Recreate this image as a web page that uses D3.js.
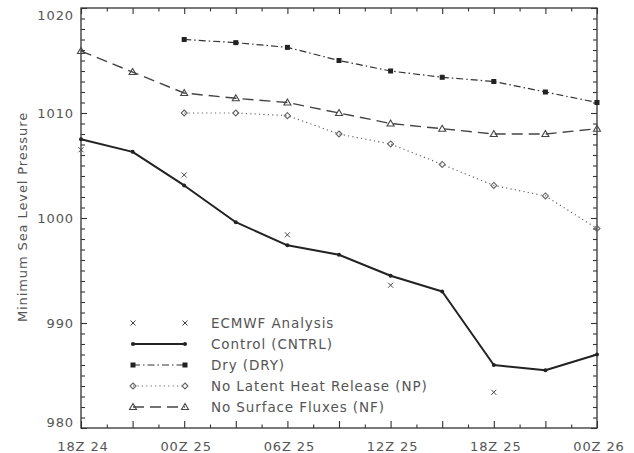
<!DOCTYPE html>
<html><head><meta charset="utf-8">
<script src="https://cdn.jsdelivr.net/npm/d3@7"></script>
<style>
body{margin:0;background:#fff;}
text{font-family:"DejaVu Sans",Verdana,sans-serif;fill:#555;}
</style></head>
<body><svg id="c" width="634" height="453"></svg>
<script>
const hoursAll = [0,3,6,9,12,15,18,21,24,27,30];
const hoursLate = [6,9,12,15,18,21,24,27,30];
const xTickHours = [0,6,12,18,24,30];
const xTickLabels = ["18Z 24","00Z 25","06Z 25","12Z 25","18Z 25","00Z 26"];
const yTickValues = [980,990,1000,1010,1020];
const ecmwfHours = [0,6,12,18,24];
const ecmwf = [1006.5,1004.1,998.4,993.6,983.4];
const control = [1007.5,1006.3,1003.1,999.6,997.4,996.5,994.5,993.0,986.0,985.5,987.0];
const dry = [1017.0,1016.7,1016.25,1015.0,1014.0,1013.4,1013.0,1012.0,1011.0];
const np = [1010.0,1010.0,1009.75,1008.0,1007.05,1005.1,1003.1,1002.1,999.0];
const nf = [1015.9,1013.9,1011.9,1011.4,1011.0,1010.0,1009.0,1008.5,1008.0,1008.0,1008.5];
const legendLabels = ["ECMWF Analysis","Control (CNTRL)","Dry (DRY)","No Latent Heat Release (NP)","No Surface Fluxes (NF)"];

const svg = d3.select("#c");
const L=81,R=597,T=8,B=428;
const x = d3.scaleLinear().domain([0,30]).range([L,R]);
const y = d3.scaleLinear().domain([980,1020]).range([B,T]);
const ink="#222";

// frame
svg.append("rect").attr("x",L).attr("y",T).attr("width",R-L).attr("height",B-T)
  .attr("fill","none").attr("stroke","#333").attr("stroke-width",1.3);

// axes (inward ticks)
const xMajor = d3.range(0,30.01,3), xMinor = d3.range(1.5,30,3);
const yMinor = d3.range(981,1020,1).filter(v=>v%10!==0);
function tickAxis(gen, pos, len, minorVals, majorVals, minorLen){
  const g = svg.append("g").attr("transform",pos);
  g.call(gen.tickValues(majorVals).tickSize(len).tickFormat(""));
  g.select(".domain").remove();
  g.selectAll("line").attr("stroke","#333").attr("stroke-width",1.1);
  const g2 = svg.append("g").attr("transform",pos);
  g2.call(gen.tickValues(minorVals).tickSize(minorLen).tickFormat(""));
  g2.select(".domain").remove();
  g2.selectAll("line").attr("stroke","#333").attr("stroke-width",1.1);
}
tickAxis(d3.axisTop(x),`translate(0,${B})`,7,xMinor,xMajor,3.5);
tickAxis(d3.axisBottom(x),`translate(0,${T})`,6,xMinor,xMajor,3.5);
tickAxis(d3.axisRight(y),`translate(${L},0)`,6,yMinor,yTickValues,4);
tickAxis(d3.axisLeft(y),`translate(${R},0)`,6,yMinor,yTickValues,4);

// tick labels
const lblStyle = s=>s.attr("font-size",13).attr("letter-spacing",0.9);
const legStyle = s=>s.attr("font-size",13.5).attr("letter-spacing",0.9);
xTickHours.forEach((h,i)=>{
  svg.append("text").attr("x",x(h)+2).attr("y",451).attr("text-anchor","middle")
    .text(xTickLabels[i]).call(lblStyle);
});
yTickValues.forEach(v=>{
  let yy=y(v);
  if(v===1020) yy+=7; if(v===980) yy-=6;
  svg.append("text").attr("x",74).attr("y",yy+5).attr("text-anchor","end")
    .text(String(v)).call(lblStyle);
});
svg.append("text").attr("transform","translate(27,217) rotate(-90)")
  .attr("text-anchor","middle").text("Minimum Sea Level Pressure").call(lblStyle);

// marker helpers
function marker(g, kind, cx, cy){
  if(kind==="x"){
    g.append("path").attr("d",`M${cx-2.5},${cy-2.5}L${cx+2.5},${cy+2.5}M${cx-2.5},${cy+2.5}L${cx+2.5},${cy-2.5}`)
      .attr("stroke","#444").attr("stroke-width",1);
  } else if(kind==="dot"){
    g.append("circle").attr("cx",cx).attr("cy",cy).attr("r",2).attr("fill",ink);
  } else if(kind==="sq"){
    g.append("rect").attr("x",cx-2.5).attr("y",cy-2.5).attr("width",5).attr("height",5).attr("fill",ink);
  } else if(kind==="dia"){
    g.append("path").attr("d",`M${cx},${cy-3}L${cx+3},${cy}L${cx},${cy+3}L${cx-3},${cy}Z`)
      .attr("fill","none").attr("stroke","#666").attr("stroke-width",1.1);
  } else if(kind==="tri"){
    g.append("path").attr("d",`M${cx},${cy-3.5}L${cx+3.5},${cy+2.5}L${cx-3.5},${cy+2.5}Z`)
      .attr("fill","none").attr("stroke","#444").attr("stroke-width",1.1);
  }
}
const styles = {
  control:{dash:null,w:2,kind:"dot",stroke:ink},
  dry:{dash:"7,3,1.5,3",w:1.2,kind:"sq",stroke:"#333"},
  np:{dash:"1.2,3.2",w:1.2,kind:"dia",stroke:"#666"},
  nf:{dash:"11,6",w:1.4,kind:"tri",stroke:"#444"}
};
const line = d3.line().x(d=>x(d[0])).y(d=>y(d[1]));
function series(hs, vals, st){
  const pts = hs.map((h,i)=>[h,vals[i]]);
  const g = svg.append("g");
  g.append("path").attr("d",line(pts)).attr("fill","none").attr("stroke",st.stroke)
    .attr("stroke-width",st.w).attr("stroke-dasharray",st.dash).attr("stroke-linejoin","round");
  pts.forEach(p=>marker(g,st.kind,x(p[0]),y(p[1])));
}
series(hoursAll,nf,styles.nf);
series(hoursLate,np,styles.np);
series(hoursLate,dry,styles.dry);
series(hoursAll,control,styles.control);
const ge = svg.append("g");
ecmwfHours.forEach((h,i)=>marker(ge,"x",x(h),y(ecmwf[i])));

// legend
const legKinds = [null,styles.control,styles.dry,styles.np,styles.nf];
const legY = [323,344,365,386,407];
const lx1=133, lx2=185;
legendLabels.forEach((lab,i)=>{
  const g = svg.append("g");
  const yy = legY[i];
  if(i===0){ marker(g,"x",lx1,yy); marker(g,"x",lx2,yy); }
  else{
    const st = legKinds[i];
    g.append("line").attr("x1",lx1).attr("x2",lx2).attr("y1",yy).attr("y2",yy)
      .attr("stroke",st.stroke).attr("stroke-width",st.w).attr("stroke-dasharray",st.dash);
    marker(g,st.kind,lx1,yy); marker(g,st.kind,lx2,yy);
  }
  svg.append("text").attr("x",211).attr("y",yy+5).text(lab).call(legStyle);
});
</script></body></html>
